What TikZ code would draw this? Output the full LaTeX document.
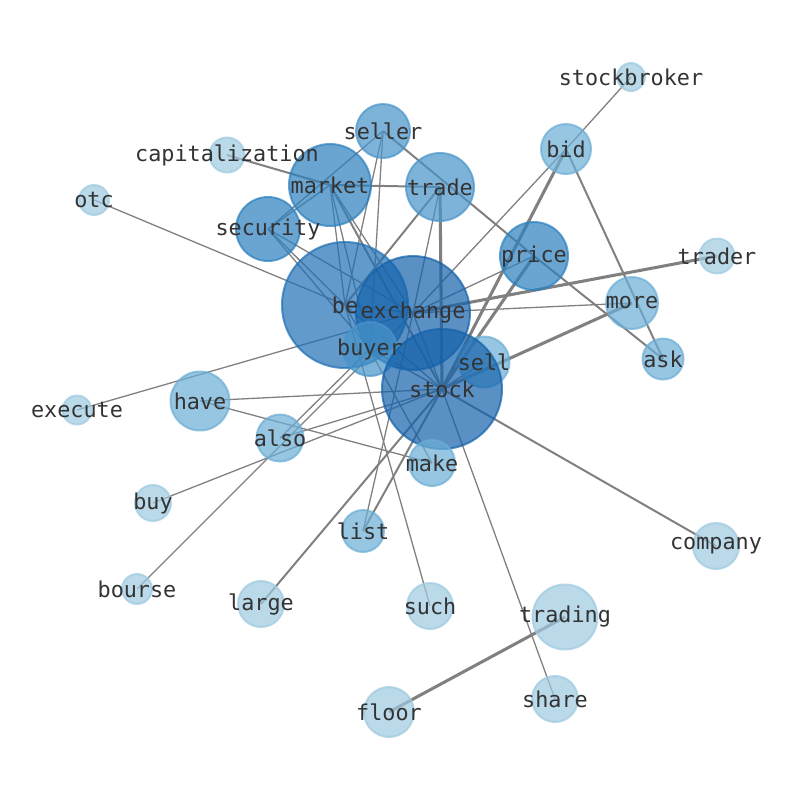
\documentclass[tikz,border=0pt]{standalone}
\usepackage{fontspec}
\setmonofont{DejaVu Sans Mono}
\usetikzlibrary{calc}
\pgfdeclarelayer{edges}
\pgfdeclarelayer{labels}
\pgfsetlayers{edges,main,labels}
\definecolor{lvA}{HTML}{9ECAE1}
\definecolor{lvB}{HTML}{6BAED6}
\definecolor{lvC}{HTML}{4894CA}
\definecolor{lvD}{HTML}{2B80BF}
\definecolor{lvE}{HTML}{1F70B5}
\definecolor{lvF}{HTML}{1462AB}
\definecolor{edgegray}{HTML}{808080}
\definecolor{labelgray}{HTML}{333333}
\tikzset{
  word/.style 2 args={circle, inner sep=0pt, outer sep=0pt, minimum size=#1*0.6mm,
    fill=#2, draw=#2, fill opacity=0.7, draw opacity=0.7, line width=1.7pt},
  txt/.style={font=\ttfamily\fontsize{18.6}{20}\selectfont, text=labelgray, inner sep=0pt},
  thinedge/.style={draw=edgegray, line width=1.1pt},
  midedge/.style={draw=edgegray, line width=1.7pt},
  thickedge/.style={draw=edgegray, line width=2.6pt}
}
\begin{document}
\begin{tikzpicture}[x=0.3mm, y=-0.3mm]
			%%%%% START %%%%%
			\useasboundingbox (0,0) rectangle (794,790);
			
			% words
			\node[word={14}{lvA}] (stockbroker) at (631,77) {};
			\node[word={25}{lvB}] (bid) at (566,149) {};
			\node[word={27}{lvC}] (seller) at (383,131) {};
			\node[word={17.5}{lvA}] (capitalization) at (227,155) {};
			\node[word={41}{lvD}] (market) at (330,185) {};
			\node[word={34}{lvC}] (trade) at (440,187) {};
			\node[word={15}{lvA}] (otc) at (94,200) {};
			\node[word={32}{lvD}] (security) at (268,229) {};
			\node[word={34}{lvD}] (price) at (534,256) {};
			\node[word={17.5}{lvA}] (trader) at (717,256) {};
			\node[word={63}{lvE}] (be) at (345,305) {};
			\node[word={57}{lvF}] (exchange) at (413,313) {};
			\node[word={26}{lvB}] (more) at (632,303) {};
			\node[word={27}{lvC}] (buyer) at (370,349) {};
			\node[word={25.5}{lvB}] (sell) at (484,362) {};
			\node[word={20.5}{lvB}] (ask) at (663,359) {};
			\node[word={60}{lvF}] (stock) at (442,389) {};
			\node[word={14.5}{lvA}] (execute) at (77,410) {};
			\node[word={29.5}{lvB}] (have) at (200,401) {};
			\node[word={23.5}{lvB}] (also) at (280,438) {};
			\node[word={23}{lvB}] (make) at (432,463) {};
			\node[word={18}{lvA}] (buy) at (153,503) {};
			\node[word={21}{lvB}] (list) at (363,531) {};
			\node[word={23}{lvA}] (company) at (716,546) {};
			\node[word={15}{lvA}] (bourse) at (137,589) {};
			\node[word={23}{lvA}] (large) at (261,604) {};
			\node[word={23}{lvA}] (such) at (430,606) {};
			\node[word={32.5}{lvA}] (trading) at (565,617) {};
			\node[word={23}{lvA}] (share) at (555,699) {};
			\node[word={25}{lvA}] (floor) at (389,712) {};
			
			% co-occurrence links, under the words
			\begin{pgfonlayer}{edges}
			\fill[white] (0,0) rectangle (794,790);
			\draw[thinedge] (stockbroker.center) -- (bid.center);
			\draw[thinedge] (bid.center) -- (exchange.center);
			\draw[thickedge] (bid.center) -- (stock.center);
			\draw[midedge] (bid.center) -- (ask.center);
			\draw[thickedge] (trader.center) -- (exchange.center);
			\draw[thinedge] (more.center) -- (exchange.center);
			\draw[thickedge] (more.center) -- (stock.center);
			\draw[midedge] (seller.center) -- (price.center);
			\draw[midedge] (price.center) -- (ask.center);
			\draw[thickedge] (price.center) -- (stock.center);
			\draw[thinedge] (price.center) -- (exchange.center);
			\draw[midedge] (capitalization.center) -- (market.center);
			\draw[midedge] (market.center) -- (trade.center);
			\draw[thinedge] (otc.center) -- (be.center);
			\draw[thinedge] (execute.center) -- (exchange.center);
			\draw[thinedge] (have.center) -- (stock.center);
			\draw[thinedge] (have.center) -- (make.center);
			\draw[thinedge] (also.center) -- (stock.center);
			\draw[thinedge] (buy.center) -- (stock.center);
			\draw[thinedge] (bourse.center) -- (exchange.center);
			\draw[thinedge] (also.center) -- (buyer.center);
			\draw[midedge] (large.center) -- (stock.center);
			\draw[thinedge] (list.center) -- (exchange.center);
			\draw[midedge] (list.center) -- (stock.center);
			\draw[thinedge] (such.center) -- (be.center);
			\draw[thinedge] (make.center) -- (be.center);
			\draw[midedge] (company.center) -- (stock.center);
			\draw[thinedge] (share.center) -- (stock.center);
			\draw[thickedge] (trading.center) -- (floor.center);
			\draw[thinedge] (security.center) -- (seller.center);
			\draw[thinedge] (security.center) -- (market.center);
			\draw[thinedge] (security.center) -- (be.center);
			\draw[thinedge] (security.center) -- (exchange.center);
			\draw[thinedge] (security.center) -- (buyer.center);
			\draw[thinedge] (market.center) -- (be.center);
			\draw[thinedge] (market.center) -- (buyer.center);
			\draw[midedge] (market.center) -- (stock.center);
			\draw[thinedge] (market.center) -- (exchange.center);
			\draw[thinedge] (seller.center) -- (be.center);
			\draw[thinedge] (seller.center) -- (buyer.center);
			\draw[midedge] (trade.center) -- (be.center);
			\draw[thinedge] (trade.center) -- (exchange.center);
			\draw[thickedge] (trade.center) -- (stock.center);
			\draw[thinedge] (be.center) -- (exchange.center);
			\draw[thinedge] (be.center) -- (stock.center);
			\draw[thinedge] (exchange.center) -- (stock.center);
			\draw[thinedge] (buyer.center) -- (stock.center);
			\draw[thinedge] (sell.center) -- (stock.center);
			\end{pgfonlayer}
			
			% labels on top
			\begin{pgfonlayer}{labels}
			\node[txt] at (stockbroker) {stockbroker};
			\node[txt] at (bid) {bid};
			\node[txt] at (seller) {seller};
			\node[txt] at (capitalization) {capitalization};
			\node[txt] at (market) {market};
			\node[txt] at (trade) {trade};
			\node[txt] at (otc) {otc};
			\node[txt] at (security) {security};
			\node[txt] at (price) {price};
			\node[txt] at (trader) {trader};
			\node[txt] at (be) {be};
			\node[txt] at (exchange) {exchange};
			\node[txt] at (more) {more};
			\node[txt] at (buyer) {buyer};
			\node[txt] at (sell) {sell};
			\node[txt] at (ask) {ask};
			\node[txt] at (stock) {stock};
			\node[txt] at (execute) {execute};
			\node[txt] at (have) {have};
			\node[txt] at (also) {also};
			\node[txt] at (make) {make};
			\node[txt] at (buy) {buy};
			\node[txt] at (list) {list};
			\node[txt] at (company) {company};
			\node[txt] at (bourse) {bourse};
			\node[txt] at (large) {large};
			\node[txt] at (such) {such};
			\node[txt] at (trading) {trading};
			\node[txt] at (share) {share};
			\node[txt] at (floor) {floor};
			\end{pgfonlayer}
			
			%%%%% END %%%%%
\end{tikzpicture}
\end{document}
